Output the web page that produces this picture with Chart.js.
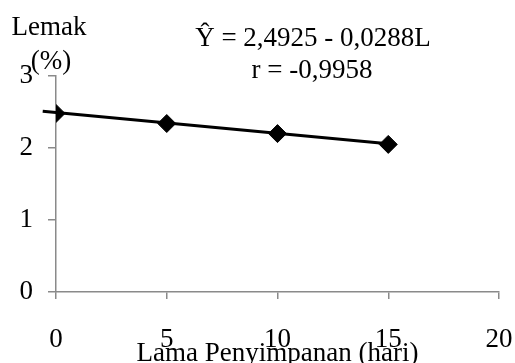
<!DOCTYPE html>
<html>
<head>
<meta charset="utf-8">
<script src="https://cdn.jsdelivr.net/npm/chart.js@4/dist/chart.umd.min.js"></script>
<style>
  html, body { margin: 0; padding: 0; background: #fff; }
  #wrap { width: 515px; height: 363px; position: relative; }
</style>
</head>
<body>
<div id="wrap"><canvas id="fat-chart"></canvas></div>
<script>
// storage days vs fat content (%)
const days = [0, 5, 10, 15]
const fat = [2.48, 2.34, 2.20, 2.05]

// trendline ends
const trendDays = [-0.6, 15]
const trendFat = [2.51, 2.06]

const xTicks = [0, 5, 10, 15, 20]
const yTicks = [0, 1, 2, 3]

const equationLines = ['\u0176 = 2,4925 - 0,0288L', 'r = -0,9958']

const serif = 'Liberation Serif, Times New Roman, serif'
const fontSize = 27
const axisGray = '#8a8a8a'

// free text: y label top-left and the regression equation
const textPlugin = {
  id: 'freeText',
  afterDraw(chart) {
    const ctx = chart.ctx
    ctx.save()
    ctx.fillStyle = '#000'
    ctx.font = fontSize + 'px ' + serif
    ctx.textAlign = 'center'
    ctx.textBaseline = 'middle'
    ctx.fillText('Lemak', 49, 28)
    ctx.fillText('(%)', 51, 62)
    ctx.fillText(equationLines[0], 313, 39)
    ctx.fillText(equationLines[1], 312, 71)
    ctx.restore()
  }
}

const chartId = document.getElementById('fat-chart')

new Chart(chartId, {
  type: 'scatter',
  data: {
    datasets: [
      {
        label: 'trend',
        data: trendDays.map((d, i) => ({ x: d, y: trendFat[i] })),
        showLine: true,
        borderColor: '#000',
        borderWidth: 3,
        pointRadius: 0,
        clip: false,
      },
      {
        label: 'Lemak',
        data: days.map((d, i) => ({ x: d, y: fat[i] })),
        showLine: false,
        pointStyle: 'rectRot',
        pointRadius: 9,
        pointBackgroundColor: '#000',
        pointBorderColor: '#000',
        pointBorderWidth: 1,
      },
    ]
  },
  plugins: [textPlugin],
  options: {
    responsive: true,
    maintainAspectRatio: false,
    animation: false,
    layout: { padding: { top: 76, left: 0, right: 16, bottom: 0 } },
    plugins: {
      legend: { display: false },
      tooltip: { enabled: false },
    },
    scales: {
      x: {
        type: 'linear',
        min: 0,
        max: 20,
        afterBuildTicks: scale => { scale.ticks = xTicks.map(v => ({ value: v })) },
        afterFit: scale => {
          scale.height = 71
          scale.paddingLeft = 0
          scale.paddingRight = 0
        },
        grid: { drawOnChartArea: false, drawTicks: true, tickLength: 7, color: axisGray, lineWidth: 1.5 },
        border: { color: axisGray, width: 1.5 },
        ticks: { color: '#000', font: { family: serif, size: fontSize }, padding: 25, maxRotation: 0 },
        title: {
          display: true,
          text: 'Lama Penyimpanan (hari)',
          color: '#000',
          font: { family: serif, size: fontSize },
          padding: { top: 0, bottom: -7 },
        },
      },
      y: {
        type: 'linear',
        min: 0,
        max: 3,
        afterBuildTicks: scale => { scale.ticks = yTicks.map(v => ({ value: v })) },
        afterFit: scale => {
          scale.width = 56
          scale.paddingTop = 0
          scale.paddingBottom = 0
        },
        grid: { drawOnChartArea: false, drawTicks: true, tickLength: 8, color: axisGray, lineWidth: 1.5 },
        border: { color: axisGray, width: 1.5 },
        ticks: { color: '#000', font: { family: serif, size: fontSize }, padding: 15 },
      },
    },
  },
})
</script>
</body>
</html>
